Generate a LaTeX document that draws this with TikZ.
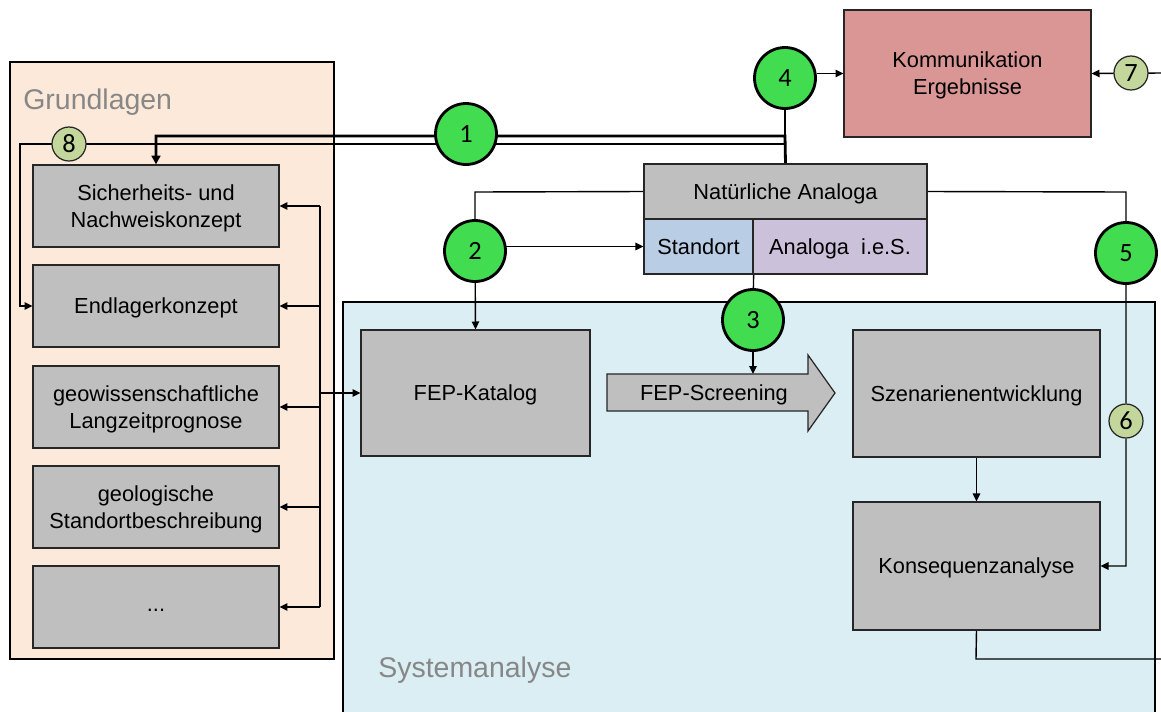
\documentclass[tikz,border=0pt]{standalone}
\usepackage{fontspec}
\setmainfont{Liberation Sans}
\newfontfamily\numfont{Carlito}
\usetikzlibrary{arrows.meta}
\definecolor{peach}{HTML}{FDE9D9}
\definecolor{paleblue}{HTML}{DAEEF3}
\definecolor{boxgray}{HTML}{BFBFBF}
\definecolor{rose}{HTML}{D99694}
\definecolor{cellblue}{HTML}{B9CDE5}
\definecolor{lavender}{HTML}{CCC1DA}
\definecolor{numgreen}{HTML}{41DC50}
\definecolor{numolive}{HTML}{C3D69B}
\definecolor{labelgray}{HTML}{878787}
\pgfdeclarelayer{bg}
\pgfsetlayers{bg,main}

\begin{document}
\begin{tikzpicture}[x=0.02cm, y=-0.02cm,
	box/.style={draw=black!85, line width=0.7pt, fill=boxgray, align=center, inner sep=0pt, text depth=0pt, font=\fontsize{12.4}{15.3}\selectfont},
	bignum/.style={circle, draw=black, line width=1.6pt, fill=numgreen, minimum size=1.22cm, inner sep=0pt, font=\numfont\fontsize{15}{15}\selectfont},
	smallnum/.style={circle, draw=black!85, line width=0.7pt, fill=numolive, minimum size=0.68cm, inner sep=0pt, font=\numfont\fontsize{15}{15}\selectfont},
	con/.style={line width=0.8pt},
	arr/.style={con, -{Triangle[length=4.5pt,width=4.2pt]}},
	fat/.style={line width=1.6pt, -{Triangle[length=5pt,width=5pt]}},
	region/.style={anchor=base west, inner sep=0pt, text=labelgray, font=\fontsize{16.2}{19}\selectfont}]
			%%%%% START %%%%%
			\useasboundingbox (0,0) rectangle (1161,711);
			
			\begin{pgfonlayer}{bg}
			\draw[line width=0.7pt, fill=peach] (10,62) rectangle (334,659);
			\draw[line width=0.7pt, fill=paleblue] (343,302) rectangle (1155,730);
			\end{pgfonlayer}
			
			\node[region] (grl) at (23,109) {Grundlagen};
			\node[region] (sys) at (378,677) {Systemanalyse};
			
			% Grundlagen
			\node[box, minimum width=4.92cm, minimum height=1.64cm] (sich) at (156,206) {Sicherheits- und\\Nachweiskonzept};
			\node[box, minimum width=4.92cm, minimum height=1.64cm] (endl) at (156,306) {Endlagerkonzept};
			\node[box, minimum width=4.92cm, minimum height=1.64cm] (geow) at (156,407) {geowissenschaftliche\\Langzeitprognose};
			\node[box, minimum width=4.92cm, minimum height=1.64cm] (geol) at (156,507) {geologische\\Standortbeschreibung};
			\node[box, text height=0.55em, minimum width=4.92cm, minimum height=1.64cm] (more) at (156,607) {...};
			
			% Systemanalyse
			\node[box, minimum width=4.58cm, minimum height=2.52cm] (kat) at (475.5,393) {FEP-Katalog};
			\draw[draw=black!85, line width=0.7pt, fill=boxgray] (607,374) -- (808,374) -- (808,355) -- (835,393) -- (808,431) -- (808,411) -- (607,411) -- cycle;
			\node[text depth=0pt, font=\fontsize{12.4}{15.3}\selectfont] (scr) at (714,393) {FEP-Screening};
			\node[box, minimum width=4.94cm, minimum height=2.54cm] (szen) at (976.5,393.5) {Szenarienentwicklung};
			\node[box, minimum width=4.94cm, minimum height=2.56cm] (kons) at (976.5,566) {Konsequenzanalyse};
			
			% Analoga and Kommunikation
			\node[box, minimum width=5.66cm, minimum height=1.1cm] (na) at (785.5,191.5) {Natürliche Analoga};
			\node[box, fill=cellblue, minimum width=2.18cm, minimum height=1.1cm] (std) at (698.5,246.5) {Standort};
			\node[box, fill=lavender, minimum width=3.48cm, minimum height=1.1cm] (ana) at (840,246.5) {Analoga\ \ i.e.S.};
			\node[box, fill=rose, minimum width=4.94cm, minimum height=2.54cm] (komm) at (967.5,73.5) {Kommunikation\\Ergebnisse};
			
			% numbers
			\node[bignum] (c1) at (466,134) {1};
			\node[bignum] (c2) at (475,251) {2};
			\node[bignum] (c3) at (753,320) {3};
			\node[bignum] (c4) at (785,78) {4};
			\node[bignum] (c5) at (1126,253) {5};
			\node[smallnum] (c6) at (1126,421) {6};
			\node[smallnum] (c7) at (1131,73) {7};
			\node[smallnum] (c8) at (69,144) {8};
			
			\coordinate (t1) at (785,136);
			\coordinate (t2) at (156,136);
			\coordinate (t3) at (785,144);
			\coordinate (t4) at (20,144);
			\coordinate (t5) at (20,306);
			\coordinate (bus) at (320,206);
			\coordinate (na2) at (475,192);
			\coordinate (na5) at (1126,192);
			\coordinate (k6) at (1126,566);
			\coordinate (scrtop) at (753,374);
			\coordinate (out1) at (976,659);
			\coordinate (out2) at (1161,659);
			\coordinate (e7) at (1161,73);
			
			\begin{pgfonlayer}{bg}
			\draw[fat] (na.north) -- (t1) -- (t2) -- (sich.north);
			\draw[con] (c4) -- (t1);
			\draw[arr] (t3) -- (t4) -- (t5) -- (endl.west);
			\draw[arr] (c4.east |- komm) -- (komm.west);
			\draw[arr] (e7) -- (komm.east);
			
			\draw[con] (sich.east -| bus) -- (more.east -| bus);
			\foreach \b in {sich,endl,geow,geol,more}
				\draw[arr] (\b.east -| bus) -- (\b.east);
			\draw[arr] (kat.west -| bus) -- (kat.west);
			
			\draw[con] (na.west) -- (na2) -- (c2);
			\draw[arr] (c2) -- (kat.north);
			\draw[arr] (c2 |- std.west) -- (std.west);
			\draw[con] (std.south east) -- (c3);
			\draw[arr] (c3) -- (scrtop);
			\draw[arr] (na.east) -- (na5) -- (c5) -- (c6) -- (k6) -- (kons.east);
			\draw[arr] (szen.south) -- (kons.north);
			\draw[con] (kons.south) -- (out1) -- (out2);
			\end{pgfonlayer}
			%%%%% END %%%%%
\end{tikzpicture}
\end{document}
